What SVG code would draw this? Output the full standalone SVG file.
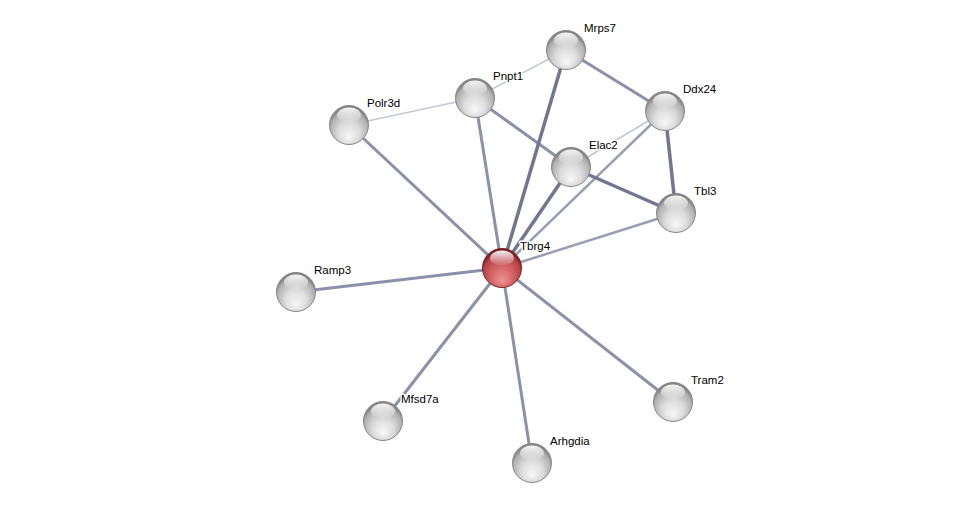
<svg xmlns="http://www.w3.org/2000/svg" width="976" height="508" viewBox="0 0 976 508">
<defs>
<radialGradient id="gb" cx="50%" cy="62%" r="55%" fx="50%" fy="82%">
<stop offset="0" stop-color="#f8f8f8"/>
<stop offset="0.5" stop-color="#dcdcdc"/>
<stop offset="0.88" stop-color="#b0b0b0"/>
<stop offset="1" stop-color="#858585"/>
</radialGradient>
<radialGradient id="rb" cx="50%" cy="62%" r="55%" fx="50%" fy="85%">
<stop offset="0" stop-color="#f09494"/>
<stop offset="0.5" stop-color="#d46668"/>
<stop offset="0.88" stop-color="#b44246"/>
<stop offset="1" stop-color="#7a2024"/>
</radialGradient>
<linearGradient id="hl" x1="0" y1="0" x2="0" y2="1">
<stop offset="0" stop-color="#ffffff" stop-opacity="0.95"/>
<stop offset="1" stop-color="#ffffff" stop-opacity="0.05"/>
</linearGradient>
<symbol id="ball" overflow="visible">
<circle r="19.5" fill="url(#gb)" stroke="#888" stroke-width="1"/>
<ellipse cx="0" cy="-10" rx="12" ry="7.5" fill="url(#hl)"/>
</symbol>
</defs>
<style>
.e{stroke:#8c90a8;stroke-width:3;fill:none;stroke-linecap:butt}
.l{stroke:#c4c7d4;stroke-width:1.6}
.m{stroke:#9a9eb4;stroke-width:2.5}
.d{stroke:#727690;stroke-width:3.5}
text{font-family:"Liberation Sans",Arial,sans-serif;font-size:11.5px;fill:#000;stroke:#fff;stroke-width:3px;paint-order:stroke;stroke-linejoin:round}
</style>
<rect width="976" height="508" fill="#fff"/>
<g id="edges">
<line class="e l" x1="475" y1="98" x2="566" y2="50"/>
<line class="e l" x1="349" y1="125" x2="475" y2="98"/>
<line class="e" x1="566" y1="50" x2="665" y2="111"/>
<line class="e l" x1="665" y1="111" x2="571" y2="167"/>
<line class="e m" x1="665" y1="111" x2="502" y2="268"/>
<line class="e d" x1="665" y1="111" x2="676" y2="213"/>
<line class="e" x1="475" y1="98" x2="571" y2="167"/>
<line class="e d" x1="571" y1="167" x2="676" y2="213"/>
<line class="e d" x1="502" y1="268" x2="566" y2="50"/>
<line class="e" x1="502" y1="268" x2="475" y2="98"/>
<line class="e d" x1="502" y1="268" x2="571" y2="167"/>
<line class="e m" x1="502" y1="268" x2="676" y2="213"/>
<line class="e" x1="502" y1="268" x2="349" y2="125"/>
<line class="e" x1="502" y1="268" x2="296" y2="292"/>
<line class="e" x1="502" y1="268" x2="383" y2="421"/>
<line class="e" x1="502" y1="268" x2="532" y2="463"/>
<line class="e" x1="502" y1="268" x2="673" y2="402"/>
</g>
<g id="Mrps7"><use href="#ball" x="566" y="50"/><text x="584" y="32">Mrps7</text></g>
<g id="Pnpt1"><use href="#ball" x="475" y="98"/><text x="493" y="80">Pnpt1</text></g>
<g id="Ddx24"><use href="#ball" x="665" y="111"/><text x="683" y="93">Ddx24</text></g>
<g id="Polr3d"><use href="#ball" x="349" y="125"/><text x="367" y="107">Polr3d</text></g>
<g id="Elac2"><use href="#ball" x="571" y="167"/><text x="589" y="149">Elac2</text></g>
<g id="Tbl3"><use href="#ball" x="676" y="213"/><text x="694" y="195">Tbl3</text></g>
<g id="Tbrg4"><circle cx="502" cy="268" r="19.5" fill="url(#rb)" stroke="#7a2024" stroke-width="1"/><ellipse cx="502" cy="258" rx="12" ry="7.5" fill="url(#hl)"/><text x="520" y="250">Tbrg4</text></g>
<g id="Ramp3"><use href="#ball" x="296" y="292"/><text x="314" y="274">Ramp3</text></g>
<g id="Mfsd7a"><use href="#ball" x="383" y="421"/><text x="401" y="403">Mfsd7a</text></g>
<g id="Arhgdia"><use href="#ball" x="532" y="463"/><text x="550" y="445">Arhgdia</text></g>
<g id="Tram2"><use href="#ball" x="673" y="402"/><text x="691" y="384">Tram2</text></g>
</svg>
